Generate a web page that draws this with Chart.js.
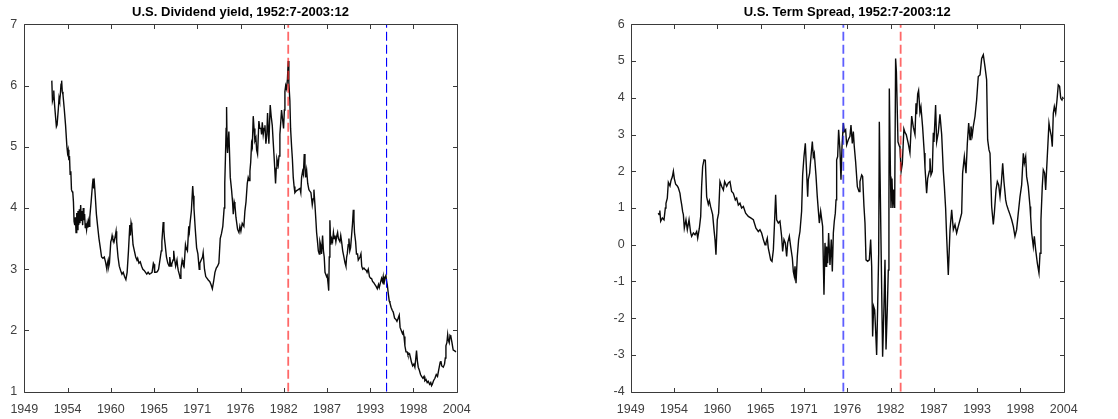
<!DOCTYPE html>
<html>
<head>
<meta charset="utf-8">
<script src="https://cdn.jsdelivr.net/npm/chart.js@4.4.1/dist/chart.umd.min.js"></script>
<style>
html,body{margin:0;padding:0;background:#fff;}
#wrap{position:relative;width:1118px;height:419px;}
canvas{position:absolute;top:0;}
</style>
</head>
<body>
<div id="wrap">
<canvas id="c1" width="559" height="419" style="left:0"></canvas>
<canvas id="c2" width="559" height="419" style="left:559px"></canvas>
</div>
<script>
// ---- Data (decimal years) ----
const dyTitle = 'U.S. Dividend yield, 1952:7-2003:12';
const tsTitle = 'U.S. Term Spread, 1952:7-2003:12';

const dyDates = [1952.50,1952.58,1952.67,1952.75,1952.83,1953.00,1953.08,1953.17,1953.33,1953.42,1953.50,1953.58,1953.67,1953.75,1953.83,1953.92,1954.08,1954.25,1954.42,1954.50,1954.58,1954.67,1954.75,1954.83,1954.92,1955.00,1955.08,1955.17,1955.25,1955.33,1955.42,1955.50,1955.58,1955.67,1955.75,1955.83,1955.92,1956.00,1956.08,1956.17,1956.25,1956.33,1956.42,1956.50,1956.58,1956.67,1956.75,1956.83,1956.92,1957.00,1957.08,1957.17,1957.25,1957.33,1957.50,1957.67,1957.75,1957.83,1957.92,1958.00,1958.17,1958.33,1958.50,1958.67,1958.83,1959.00,1959.17,1959.33,1959.50,1959.58,1959.67,1959.75,1959.83,1960.00,1960.08,1960.17,1960.25,1960.42,1960.58,1960.67,1960.75,1960.92,1961.08,1961.25,1961.42,1961.58,1961.75,1961.92,1962.08,1962.25,1962.42,1962.50,1962.58,1962.67,1962.83,1963.00,1963.17,1963.33,1963.42,1963.58,1963.75,1963.92,1964.08,1964.25,1964.42,1964.58,1964.75,1964.92,1965.08,1965.25,1965.42,1965.50,1965.58,1965.75,1965.92,1966.08,1966.25,1966.42,1966.50,1966.67,1966.75,1966.83,1966.92,1967.08,1967.25,1967.42,1967.50,1967.58,1967.67,1967.75,1967.92,1968.00,1968.08,1968.25,1968.42,1968.50,1968.58,1968.75,1968.83,1968.92,1969.08,1969.17,1969.33,1969.50,1969.58,1969.75,1969.92,1970.00,1970.08,1970.25,1970.42,1970.50,1970.58,1970.75,1970.92,1971.08,1971.25,1971.33,1971.50,1971.67,1971.75,1971.92,1972.08,1972.25,1972.42,1972.58,1972.75,1972.92,1973.08,1973.25,1973.42,1973.58,1973.75,1973.92,1974.08,1974.25,1974.42,1974.50,1974.58,1974.67,1974.73,1974.80,1974.85,1975.02,1975.20,1975.36,1975.49,1975.58,1975.70,1975.79,1975.92,1976.13,1976.30,1976.42,1976.55,1976.72,1976.93,1977.06,1977.20,1977.36,1977.48,1977.60,1977.70,1977.80,1977.91,1978.00,1978.12,1978.22,1978.33,1978.46,1978.55,1978.67,1978.84,1978.95,1979.10,1979.18,1979.27,1979.39,1979.50,1979.61,1979.73,1979.85,1979.94,1980.02,1980.11,1980.20,1980.28,1980.40,1980.54,1980.65,1980.79,1980.96,1981.05,1981.13,1981.30,1981.40,1981.51,1981.62,1981.72,1981.85,1981.98,1982.08,1982.15,1982.25,1982.36,1982.47,1982.57,1982.65,1982.78,1982.87,1983.00,1983.10,1983.21,1983.32,1983.42,1983.60,1983.84,1984.06,1984.17,1984.27,1984.40,1984.50,1984.61,1984.70,1984.78,1984.91,1985.05,1985.20,1985.30,1985.46,1985.63,1985.75,1985.84,1985.97,1986.09,1986.18,1986.26,1986.40,1986.52,1986.60,1986.69,1986.81,1986.94,1987.05,1987.15,1987.25,1987.32,1987.45,1987.53,1987.65,1987.72,1987.79,1987.87,1987.95,1988.00,1988.10,1988.21,1988.32,1988.42,1988.52,1988.63,1988.75,1988.85,1988.95,1989.14,1989.25,1989.36,1989.50,1989.65,1989.80,1989.91,1990.00,1990.08,1990.20,1990.29,1990.40,1990.50,1990.63,1990.75,1990.85,1990.93,1991.00,1991.14,1991.25,1991.39,1991.48,1991.56,1991.70,1991.82,1991.92,1992.05,1992.20,1992.32,1992.50,1992.60,1992.75,1992.90,1993.05,1993.17,1993.30,1993.45,1993.60,1993.75,1993.90,1994.05,1994.15,1994.30,1994.44,1994.55,1994.65,1994.74,1994.85,1995.00,1995.08,1995.17,1995.30,1995.42,1995.51,1995.65,1995.80,1995.93,1996.10,1996.27,1996.40,1996.55,1996.69,1996.80,1996.95,1997.10,1997.20,1997.30,1997.41,1997.55,1997.70,1997.80,1998.00,1998.13,1998.25,1998.40,1998.55,1998.68,1998.80,1998.89,1999.00,1999.11,1999.25,1999.40,1999.53,1999.70,1999.85,1999.95,2000.10,2000.25,2000.38,2000.55,2000.70,2000.80,2000.89,2001.05,2001.23,2001.40,2001.56,2001.70,2001.78,2001.90,2001.99,2002.10,2002.29,2002.45,2002.55,2002.63,2002.75,2002.85,2002.92,2003.05,2003.15,2003.26,2003.40,2003.50,2003.56,2003.70,2003.92];
const dyValues = [6.08,5.75,5.80,5.92,5.72,5.45,5.33,5.36,5.62,5.80,5.75,5.85,6.02,6.08,5.90,5.85,5.62,5.35,5.00,4.90,4.95,4.78,4.85,4.55,4.60,4.30,4.27,4.25,4.10,3.78,3.72,3.85,3.60,3.92,3.65,3.95,3.72,3.98,3.75,4.05,3.80,3.95,3.72,4.00,3.80,3.90,3.68,3.75,3.65,3.75,3.68,3.78,3.70,3.85,4.10,4.38,4.48,4.32,4.40,4.25,3.90,3.70,3.50,3.35,3.20,3.18,3.20,3.12,3.00,3.10,3.15,3.05,3.10,3.45,3.48,3.55,3.50,3.45,3.55,3.62,3.45,3.20,3.05,2.98,2.92,2.95,2.88,2.83,2.95,3.30,3.72,3.55,3.76,3.70,3.40,3.30,3.20,3.15,3.18,3.10,3.12,3.05,3.00,2.98,2.95,2.92,2.95,2.92,2.93,2.95,3.10,3.08,2.95,2.95,2.96,3.00,3.15,3.30,3.45,3.77,3.65,3.50,3.40,3.20,3.10,3.05,3.20,3.12,3.05,3.08,3.15,3.30,3.20,3.05,3.15,3.05,2.98,2.90,2.85,3.00,3.15,3.10,3.05,3.40,3.35,3.30,3.70,3.62,3.75,3.95,4.36,4.20,4.00,3.65,3.35,3.25,3.00,3.10,3.15,3.20,3.27,3.00,2.88,2.85,2.82,2.80,2.75,2.68,2.80,2.95,3.02,3.05,3.10,3.50,3.58,3.70,4.00,4.40,4.80,5.30,5.65,5.00,4.90,5.25,4.50,4.30,4.10,3.90,4.10,4.05,3.85,3.65,3.60,3.70,3.62,3.75,3.70,3.95,4.10,4.40,4.50,4.45,4.60,4.75,5.05,5.00,5.50,5.30,5.10,5.15,4.95,4.88,5.42,5.30,5.30,5.20,5.40,5.20,5.30,5.35,5.05,5.20,5.55,5.30,5.05,5.40,5.68,5.50,5.35,5.10,4.80,4.40,4.65,4.80,4.70,4.85,5.20,5.40,5.60,5.45,5.30,5.60,5.90,6.00,5.95,6.10,6.40,6.05,5.75,5.30,5.00,4.80,4.50,4.35,4.25,4.28,4.30,4.32,4.25,4.50,4.60,4.55,4.88,4.70,4.50,4.62,4.40,4.30,4.28,4.25,4.05,4.15,4.30,4.05,3.80,3.60,3.50,3.30,3.25,3.45,3.40,3.25,3.55,3.30,3.20,2.95,2.95,2.88,2.90,2.75,2.65,3.20,3.80,3.50,3.40,3.50,3.45,3.60,3.50,3.55,3.45,3.55,3.60,3.50,3.45,3.55,3.45,3.30,3.20,3.10,3.05,3.20,3.25,3.40,3.50,3.30,3.35,3.55,3.75,3.97,3.80,3.60,3.45,3.25,3.25,3.15,3.15,3.20,3.25,3.05,3.00,3.02,3.00,2.98,2.95,3.00,2.88,2.85,2.85,2.80,2.78,2.75,2.72,2.68,2.75,2.70,2.78,2.85,2.80,2.88,2.75,2.85,2.90,2.80,2.75,2.60,2.48,2.45,2.38,2.33,2.30,2.20,2.18,2.15,2.20,2.25,2.05,2.00,1.95,1.98,1.90,1.75,1.65,1.65,1.60,1.62,1.55,1.48,1.42,1.45,1.40,1.55,1.67,1.50,1.40,1.35,1.28,1.25,1.22,1.25,1.18,1.20,1.15,1.17,1.12,1.15,1.10,1.12,1.18,1.22,1.28,1.25,1.35,1.40,1.48,1.50,1.42,1.40,1.45,1.55,1.75,1.80,1.93,1.85,1.80,1.92,1.90,1.80,1.72,1.68,1.67,1.65];

const tsDates = [1952.50,1952.60,1952.70,1952.81,1953.02,1953.23,1953.40,1953.48,1953.65,1953.78,1953.99,1954.12,1954.29,1954.42,1954.54,1954.71,1954.92,1955.05,1955.26,1955.35,1955.47,1955.60,1955.69,1955.81,1956.02,1956.19,1956.41,1956.62,1956.74,1956.96,1957.17,1957.38,1957.51,1957.72,1957.89,1958.01,1958.14,1958.31,1958.48,1958.65,1958.86,1958.99,1959.16,1959.41,1959.58,1959.71,1959.83,1960.00,1960.17,1960.34,1960.55,1960.77,1960.93,1961.19,1961.40,1961.61,1961.82,1962.04,1962.29,1962.46,1962.67,1962.88,1963.09,1963.31,1963.60,1963.94,1964.24,1964.58,1964.91,1965.21,1965.42,1965.63,1965.85,1966.06,1966.18,1966.35,1966.48,1966.61,1966.78,1966.95,1967.12,1967.24,1967.41,1967.54,1967.75,1967.96,1968.17,1968.30,1968.47,1968.64,1968.81,1968.94,1969.15,1969.32,1969.53,1969.66,1969.78,1969.87,1970.00,1970.16,1970.33,1970.50,1970.71,1970.84,1971.01,1971.18,1971.35,1971.48,1971.56,1971.73,1971.90,1972.07,1972.20,1972.32,1972.53,1972.70,1972.83,1972.96,1973.13,1973.38,1973.55,1973.68,1973.81,1973.89,1974.02,1974.14,1974.31,1974.48,1974.61,1974.74,1974.86,1974.99,1975.08,1975.16,1975.29,1975.41,1975.58,1975.71,1975.84,1976.01,1976.13,1976.30,1976.43,1976.64,1976.85,1976.98,1977.15,1977.28,1977.40,1977.57,1977.79,1978.00,1978.12,1978.34,1978.46,1978.63,1978.76,1978.89,1979.10,1979.31,1979.48,1979.61,1979.73,1979.86,1979.99,1980.11,1980.24,1980.37,1980.50,1980.58,1981.00,1981.17,1981.30,1981.43,1981.60,1981.72,1981.80,1981.85,1982.00,1982.06,1982.19,1982.30,1982.40,1982.53,1982.65,1982.75,1982.95,1983.10,1983.20,1983.35,1983.50,1983.70,1983.85,1984.00,1984.26,1984.47,1984.69,1984.90,1985.11,1985.24,1985.32,1985.45,1985.57,1985.74,1985.87,1986.08,1986.29,1986.38,1986.59,1986.72,1986.93,1987.01,1987.14,1987.31,1987.44,1987.52,1987.73,1987.86,1988.07,1988.28,1988.50,1988.71,1988.84,1989.00,1989.13,1989.34,1989.56,1989.77,1989.98,1990.19,1990.40,1990.61,1990.83,1991.04,1991.16,1991.38,1991.59,1991.76,1991.93,1992.10,1992.22,1992.39,1992.52,1992.73,1992.94,1993.15,1993.37,1993.58,1993.79,1994.00,1994.21,1994.34,1994.51,1994.64,1994.85,1995.06,1995.19,1995.40,1995.57,1995.74,1995.91,1996.08,1996.25,1996.41,1996.63,1996.75,1996.96,1997.18,1997.39,1997.60,1997.81,1998.02,1998.23,1998.45,1998.66,1998.87,1999.00,1999.17,1999.29,1999.50,1999.72,1999.80,1999.93,2000.14,2000.27,2000.44,2000.65,2000.86,2000.99,2001.11,2001.28,2001.41,2001.58,2001.71,2001.83,2002.00,2002.13,2002.26,2002.43,2002.55,2002.68,2002.81,2002.98,2003.15,2003.31,2003.48,2003.62,2003.78,2003.92];
const tsValues = [0.86,0.82,0.93,0.64,0.73,0.68,1.00,1.13,1.27,1.70,1.60,1.75,1.85,2.00,1.80,1.65,1.60,1.55,1.40,1.25,1.10,0.90,0.82,0.45,0.68,0.41,0.68,0.32,0.23,0.32,0.27,0.36,0.18,0.45,0.77,1.59,2.13,2.31,2.30,1.30,1.10,1.20,1.03,0.82,0.41,0.14,-0.27,0.68,0.86,1.72,1.59,1.49,1.72,1.59,1.68,1.72,1.45,1.40,1.22,1.27,1.08,1.13,1.00,1.04,0.86,0.77,0.73,0.68,0.45,0.36,0.41,0.32,0.14,0.00,0.05,0.18,-0.09,-0.23,-0.41,-0.45,-0.14,0.45,1.36,0.68,0.59,0.64,0.23,-0.18,0.14,0.05,-0.32,0.05,0.23,-0.05,-0.36,-0.73,-0.86,-0.59,-1.05,-0.32,0.14,0.36,0.91,1.90,2.40,2.76,1.95,1.31,1.77,1.95,2.40,2.81,2.40,2.49,1.90,1.31,0.95,0.59,0.91,0.50,-1.36,0.05,-0.59,-0.05,-0.50,0.32,-0.55,0.14,-0.73,0.32,0.64,0.86,1.22,2.31,2.40,3.13,2.58,1.77,2.67,3.31,3.08,3.13,2.72,2.86,2.95,3.26,2.76,3.08,2.67,2.26,1.58,1.45,1.72,1.90,1.86,1.04,0.59,-0.41,-0.45,-0.41,0.14,-0.59,-2.50,-1.68,-1.77,-2.32,-3.00,-1.68,-0.23,3.35,-3.05,-1.68,-0.41,-2.85,-1.70,-0.69,1.13,4.25,1.86,1.00,1.80,1.00,1.50,1.00,5.07,4.70,2.80,2.70,2.65,2.00,2.20,3.15,3.05,3.00,2.75,2.50,3.50,3.20,3.00,3.85,3.55,4.10,4.20,3.60,3.75,3.20,2.50,2.10,1.40,1.80,2.00,2.35,1.90,2.00,3.05,2.80,3.80,2.80,3.05,3.55,3.00,2.00,1.60,1.00,0.23,-0.82,0.41,0.95,0.41,0.55,0.32,0.50,0.68,0.86,1.95,2.40,1.95,2.76,3.31,2.86,3.22,2.99,3.22,3.49,3.94,4.58,4.62,5.07,5.17,4.85,4.49,2.86,2.58,2.49,1.04,0.55,0.86,1.49,1.72,1.63,1.31,1.68,2.22,1.72,1.22,1.09,0.95,0.82,0.68,0.50,0.23,0.41,0.86,1.31,1.63,2.49,2.22,2.40,1.86,1.58,1.04,0.77,0.32,-0.05,0.23,-0.14,-0.50,-0.77,-0.23,0.68,1.59,2.04,1.95,1.49,2.04,2.76,3.31,3.13,2.95,2.67,3.58,3.76,3.58,3.94,4.35,4.31,3.99,3.94,4.03];

// event dates marked with dashed vertical lines
const dyRedLine = 1982.57, dyBlueLine = 1995.08;
const tsBlueLine = 1976.01, tsRedLine = 1983.29;

// axis ticks
const xMin = 1949, xMax = 2004, xStep = 5.5;
const dyYMin = 1, dyYMax = 7;
const tsYMin = -4, tsYMax = 6;

Chart.defaults.font.family = "'Liberation Sans', Arial, sans-serif";
Chart.defaults.color = '#404040';

const framePlugin = {
  id: 'frame',
  afterDraw(chart) {
    const {ctx, chartArea: a, scales: {x, y}} = chart;
    ctx.save();
    ctx.strokeStyle = '#3a3a3a';
    ctx.lineWidth = 1;
    const L = Math.round(a.left) + 0.5, R = Math.round(a.right) + 0.5;
    const T = Math.round(a.top) + 0.5, B = Math.round(a.bottom) + 0.5;
    ctx.beginPath();
    ctx.rect(L, T, R - L, B - T);
    const tl = 4.5;
    x.ticks.forEach(t => {
      const px = Math.round(x.getPixelForValue(t.value)) + 0.5;
      ctx.moveTo(px, B); ctx.lineTo(px, B - tl);
      ctx.moveTo(px, T); ctx.lineTo(px, T + tl);
    });
    y.ticks.forEach(t => {
      const py = Math.round(y.getPixelForValue(t.value)) + 0.5;
      ctx.moveTo(L, py); ctx.lineTo(L + tl, py);
      ctx.moveTo(R, py); ctx.lineTo(R - tl, py);
    });
    ctx.stroke();
    ctx.restore();
  }
};

function vline(xv, ymin, ymax, color, width, dash) {
  return {
    data: [{x: xv, y: ymin}, {x: xv, y: ymax}],
    borderColor: color, borderWidth: width, borderDash: dash,
    pointRadius: 0, fill: false, tension: 0
  };
}

function makeChart(id, title, dates, values, ymin, ymax, lines, leftW, padRight, yPad) {
  const series = dates.map((d, i) => ({x: d, y: values[i]}));
  return new Chart(document.getElementById(id), {
    type: 'line',
    data: {
      datasets: [
        ...lines.map(l => vline(l.x, ymin, ymax, l.color, l.width, l.dash)),
        {data: series, borderColor: '#0a0a0a', borderWidth: 1.4, pointRadius: 0, tension: 0, fill: false}
      ]
    },
    options: {
      responsive: false, animation: false, devicePixelRatio: 1,
      layout: {padding: {left: 0, right: padRight, top: 0, bottom: 0}},
      plugins: {
        legend: {display: false}, tooltip: {enabled: false},
        title: {display: true, text: title, fullSize: false, color: '#000',
                font: {size: 13, weight: 'bold'}, padding: {top: 5, bottom: 3.7}}
      },
      scales: {
        x: {
          type: 'linear', min: xMin, max: xMax,
          grid: {display: false, drawTicks: false}, border: {display: false},
          ticks: {stepSize: xStep, autoSkip: false, maxRotation: 0, padding: 10,
                  font: {size: 12.5}, callback: v => String(Math.floor(v + 1e-6))},
          afterFit: s => { s.height = 27.3; }
        },
        y: {
          min: ymin, max: ymax,
          grid: {display: false, drawTicks: false}, border: {display: false},
          ticks: {stepSize: 1, padding: yPad, font: {size: 12.5}},
          afterFit: s => { s.width = leftW; }
        }
      }
    },
    plugins: [framePlugin]
  });
}

makeChart('c1', dyTitle, dyDates, dyValues, dyYMin, dyYMax, [
  {x: dyRedLine, color: 'rgba(255,40,40,0.7)', width: 1.8, dash: [9, 4]},
  {x: dyBlueLine, color: '#0000ff', width: 1.1, dash: [9, 4]}
], 24.3, 559 - 456.7, 7);

makeChart('c2', tsTitle, tsDates, tsValues, tsYMin, tsYMax, [
  {x: tsBlueLine, color: 'rgba(40,40,255,0.75)', width: 1.8, dash: [9, 4]},
  {x: tsRedLine, color: 'rgba(255,40,40,0.7)', width: 1.8, dash: [9, 4]}
], 630.7 - 559, 1118 - 1063.7, 6);
</script>
</body>
</html>
